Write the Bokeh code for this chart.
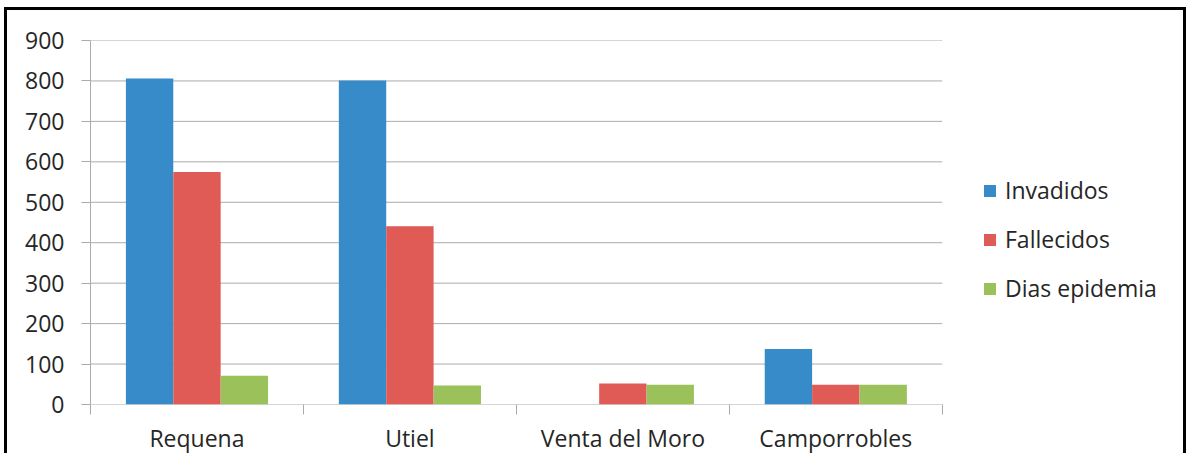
from bokeh.plotting import figure
from bokeh.models import ColumnDataSource, FixedTicker, Range1d, Legend, LegendItem
from bokeh.embed import file_html
from bokeh.resources import INLINE

categories = ["Requena", "Utiel", "Venta del Moro", "Camporrobles"]
series = ["Invadidos", "Fallecidos", "Dias epidemia"]
invadidos = [806, 801, 0, 137]
fallecidos = [575, 441, 52, 49]
dias_epidemia = [71, 47, 49, 49]
y_ticks = [0, 100, 200, 300, 400, 500, 600, 700, 800, 900]

colors = ["#388BC9", "#E05B55", "#9BC15B"]
values = [invadidos, fallecidos, dias_epidemia]
offsets = [-0.2225, 0.0, 0.2225]
bar_w = 0.2225

FONT = "Open Sans"
TXT = "#262626"
GRID = "#ababab"

# layout in pixels: plot area of the bars is 851px wide, the legend area to its right
BAR_AREA = 851
LEGEND_AREA = 247
n = len(categories)
x_end = n * (BAR_AREA + LEGEND_AREA) / BAR_AREA

p = figure(width=1182, height=446, output_backend="svg", toolbar_location=None,
           x_range=Range1d(0, x_end), y_range=Range1d(0, 900),
           min_border_left=83, min_border_right=0, min_border_top=30, min_border_bottom=50)
p.styles = {"border-left": "3px solid #000", "border-top": "3px solid #000",
            "border-right": "3px solid #000", "margin-left": "4px", "margin-top": "7px"}
p.outline_line_color = None
p.background_fill_color = "white"
p.border_fill_color = "white"

# horizontal gridlines over the category span only
p.segment(x0=[0] * len(y_ticks), x1=[n] * len(y_ticks), y0=y_ticks, y1=y_ticks,
          line_color=GRID, line_width=1)

renderers = []
for s, vals, col, off in zip(series, values, colors, offsets):
    src = ColumnDataSource(dict(x=[i + 0.5 + off for i in range(n)], top=vals))
    r = p.vbar(x="x", top="top", width=bar_w, bottom=0, source=src,
               fill_color=col, line_color=None)
    renderers.append(r)

# x axis: labels at category centres, tick marks at boundaries
p.xaxis.ticker = FixedTicker(ticks=[i + 0.5 for i in range(n)],
                             minor_ticks=list(range(n + 1)))
p.xaxis.major_label_overrides = {i + 0.5: c for i, c in enumerate(categories)}
p.xaxis.major_tick_out = 0
p.xaxis.major_tick_in = 0
p.xaxis.minor_tick_out = 10
p.xaxis.minor_tick_in = 0
p.xaxis.minor_tick_line_color = GRID
p.xaxis.axis_line_color = None
p.xaxis.major_label_standoff = 7
p.xaxis.major_label_text_font = FONT
p.xaxis.major_label_text_font_size = "23px"
p.xaxis.major_label_text_color = TXT
p.xgrid.grid_line_color = None
p.ygrid.grid_line_color = None

p.yaxis.ticker = FixedTicker(ticks=y_ticks)
p.yaxis.major_tick_out = 9
p.yaxis.major_tick_in = 0
p.yaxis.minor_tick_line_color = None
p.yaxis.major_tick_line_color = GRID
p.yaxis.axis_line_color = GRID
p.yaxis.major_label_standoff = 17
p.yaxis.major_label_text_font = FONT
p.yaxis.major_label_text_font_size = "23px"
p.yaxis.major_label_text_color = TXT

legend = Legend(items=[LegendItem(label=s, renderers=[r]) for s, r in zip(series, renderers)],
                location=(892, 100))
legend.label_text_font = FONT
legend.label_text_font_size = "23px"
legend.label_text_color = TXT
legend.glyph_width = 15
legend.glyph_height = 15
legend.label_standoff = 8
legend.label_height = 20
legend.spacing = 17
legend.padding = 0
legend.margin = 0
legend.border_line_color = None
legend.background_fill_alpha = 0
p.add_layout(legend)

open("out.html", "w").write(file_html(p, INLINE))
